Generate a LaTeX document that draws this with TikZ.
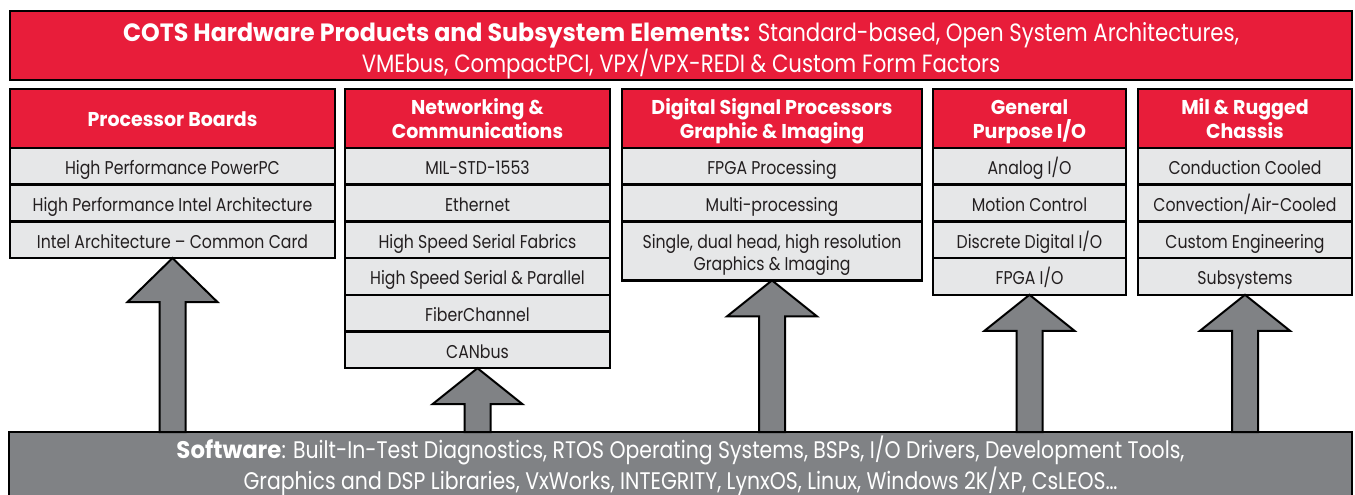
\documentclass[tikz,border=0pt]{standalone}
\usepackage{fontspec}
\setmainfont{Poppins}[FakeStretch=0.85, BoldFeatures={FakeStretch=0.95}]
\usetikzlibrary{positioning,calc}

\definecolor{cotsred}{RGB}{232,29,58}
\definecolor{rowgray}{RGB}{230,231,232}
\definecolor{swgray}{RGB}{128,130,133}
\definecolor{ink}{RGB}{35,31,32}

% up arrow from the software box (#1) to the bottom of a column (#2)
\newcommand{\liftarrow}[3]{%
  \draw[liftarrow] ($(#1)+(-13,0)$) -- ($(#2)+(-13,#3)$) -- ($(#2)+(-45,#3)$)
    -- (#2) -- ($(#2)+(45,#3)$) -- ($(#2)+(13,#3)$) -- ($(#1)+(13,0)$) -- cycle;}

\begin{document}
\begin{tikzpicture}[x=1pt,y=-1pt,
  banner/.style={draw=black, line width=2.5pt, fill=cotsred, text=white, align=center,
    inner sep=0pt, outer sep=0pt, text height=55pt, text depth=0pt,
    font=\fontsize{25}{29}\selectfont},
  colhead/.style={draw=black, line width=2.5pt, fill=cotsred, text=white, align=center,
    inner sep=0pt, outer sep=0pt, minimum height=59pt, text height=16pt, text depth=0pt,
    font=\bfseries\fontsize{20}{24}\selectfont},
  twolines/.style={text height=40pt},
  item/.style={draw=black, line width=2.5pt, fill=rowgray, text=ink, align=center,
    inner sep=0pt, outer sep=0pt, minimum height=36.7pt, text height=17pt, text depth=0pt,
    font=\fontsize{18.5}{22}\selectfont},
  liftarrow/.style={draw=black, line width=2pt, fill=swgray, line join=miter},
  software/.style={draw=black, line width=2.5pt, fill=swgray, text=white, align=center,
    inner sep=0pt, outer sep=0pt, text height=48pt, text depth=0pt,
    font=\fontsize{24}{25}\selectfont}]
\useasboundingbox (0,0) rectangle (1355,495);

\node[banner, minimum width=1342pt, minimum height=69pt] (cots) at (681,45.5)
  {\textbf{COTS Hardware Products and Subsystem Elements:} Standard-based, Open System Architectures,\\
   VMEbus, CompactPCI, VPX/VPX-REDI \& Custom Form Factors};

% processor boards
\node[colhead, minimum width=325pt] (proc) at (172.5,118.5) {Processor Boards};
\node[item, minimum width=325pt, below=0pt of proc] (proc1) {High Performance PowerPC};
\node[item, minimum width=325pt, below=0pt of proc1] (proc2) {High Performance Intel Architecture};
\node[item, minimum width=325pt, below=0pt of proc2] (proc3) {Intel Architecture -- Common Card};

% networking
\node[colhead, twolines, minimum width=265pt] (net) at (477.5,118.5) {Networking \&\\Communications};
\node[item, minimum width=265pt, below=0pt of net] (net1) {MIL-STD-1553};
\node[item, minimum width=265pt, below=0pt of net1] (net2) {Ethernet};
\node[item, minimum width=265pt, below=0pt of net2] (net3) {High Speed Serial Fabrics};
\node[item, minimum width=265pt, below=0pt of net3] (net4) {High Speed Serial \& Parallel};
\node[item, minimum width=265pt, below=0pt of net4] (net5) {FiberChannel};
\node[item, minimum width=265pt, below=0pt of net5] (net6) {CANbus};

% dsp
\node[colhead, twolines, minimum width=300pt] (dsp) at (772,118.5) {Digital Signal Processors\\Graphic \& Imaging};
\node[item, minimum width=300pt, below=0pt of dsp] (dsp1) {FPGA Processing};
\node[item, minimum width=300pt, below=0pt of dsp1] (dsp2) {Multi-processing};
\node[item, minimum width=300pt, minimum height=59pt, text height=39pt, below=0pt of dsp2] (dsp3)
  {Single, dual head, high resolution\\Graphics \& Imaging};

% general purpose io
\node[colhead, twolines, minimum width=193pt] (gpio) at (1029.5,118.5) {General\\Purpose I/O};
\node[item, minimum width=193pt, below=0pt of gpio] (gpio1) {Analog I/O};
\node[item, minimum width=193pt, below=0pt of gpio1] (gpio2) {Motion Control};
\node[item, minimum width=193pt, below=0pt of gpio2] (gpio3) {Discrete Digital I/O};
\node[item, minimum width=193pt, below=0pt of gpio3] (gpio4) {FPGA I/O};

% chassis
\node[colhead, twolines, minimum width=214pt] (mil) at (1245,118.5) {Mil \& Rugged\\Chassis};
\node[item, minimum width=214pt, below=0pt of mil] (mil1) {Conduction Cooled};
\node[item, minimum width=214pt, below=0pt of mil1] (mil2) {Convection/Air-Cooled};
\node[item, minimum width=214pt, below=0pt of mil2] (mil3) {Custom Engineering};
\node[item, minimum width=214pt, below=0pt of mil3] (mil4) {Subsystems};

\node[software, minimum width=1343pt, minimum height=66pt] (sw) at (680.5,465)
  {\textbf{Software}: Built-In-Test Diagnostics, RTOS Operating Systems, BSPs, I/O Drivers, Development Tools,\\
   Graphics and DSP Libraries, VxWorks, INTEGRITY, LynxOS, Linux, Windows 2K/XP, CsLEOS\ldots};

\liftarrow{sw.north -| proc3.south}{proc3.south}{44}
\liftarrow{sw.north -| net6.south}{net6.south}{36}
\liftarrow{sw.north -| dsp3.south}{dsp3.south}{36}
\liftarrow{sw.north -| gpio4.south}{gpio4.south}{36}
\liftarrow{sw.north -| mil4.south}{mil4.south}{36}
\end{tikzpicture}
\end{document}
